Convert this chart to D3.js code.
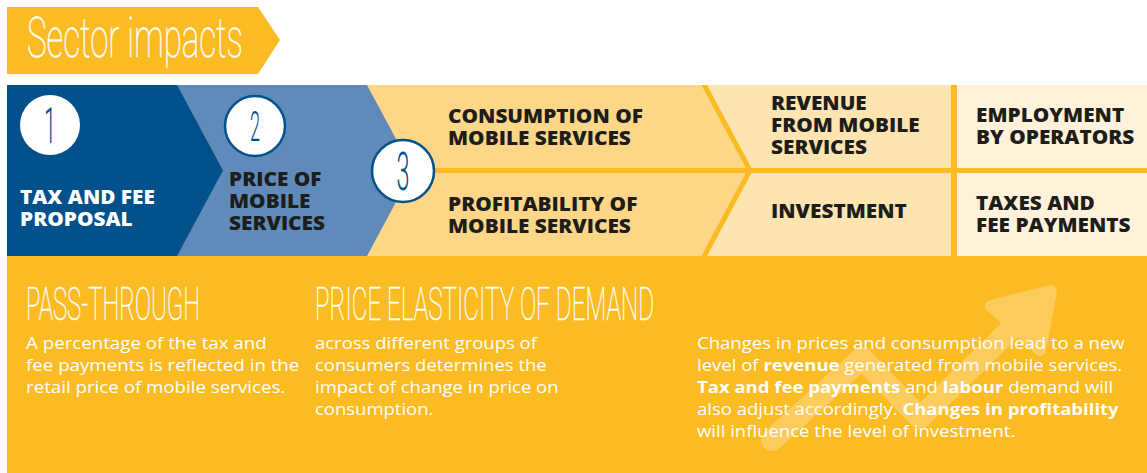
<!DOCTYPE html>
<html>
<head>
<meta charset="utf-8">
<script src="https://cdn.jsdelivr.net/npm/d3@7"></script>
<style>
  html, body { margin:0; padding:0; background:#fff; }
  svg { display:block; }
  .thin { font-family: Roboto, "Open Sans", sans-serif; font-weight:100; fill:#fff; stroke:#fff; stroke-width:0.55px; }
  .lbl  { font-family: "Open Sans", "Noto Sans", sans-serif; font-weight:800; font-size:19px; }
  .body { font-family: "Open Sans", "Noto Sans", sans-serif; font-weight:400; font-size:16.5px; fill:#fff; }
  .body .b { font-weight:700; }
</style>
</head>
<body>
<svg id="chart" width="1147" height="473"></svg>
<script>
// --- Content ---
const TITLE = "Sector impacts";
const stepNumbers = ["1", "2", "3"];
const stepLabels = [["TAX AND FEE", "PROPOSAL"], ["PRICE OF", "MOBILE", "SERVICES"]];
const impactLabels = [["CONSUMPTION OF", "MOBILE SERVICES"], ["PROFITABILITY OF", "MOBILE SERVICES"]];
const outcomeLabels = [["REVENUE", "FROM MOBILE", "SERVICES"], ["INVESTMENT"]];
const knockOnLabels = [["EMPLOYMENT", "BY OPERATORS"], ["TAXES AND", "FEE PAYMENTS"]];
const conceptTitles = ["PASS-THROUGH", "PRICE ELASTICITY OF DEMAND"];
const conceptTexts = [
  ["A percentage of the tax and", "fee payments is reflected in the", "retail price of mobile services."],
  ["across different groups of", "consumers determines the", "impact of change in price on", "consumption."]
];
// [text, bold?]
const summaryLines = [
  [["Changes in prices and consumption lead to a new", 0]],
  [["level of ", 0], ["revenue", 1], [" generated from mobile services.", 0]],
  [["Tax and fee payments", 1], [" and ", 0], ["labour", 1], [" demand will", 0]],
  [["also adjust accordingly. ", 0], ["Changes in profitability", 1]],
  [["will influence the level of investment.", 0]]
];

// --- Layout ---
const W = 1147, H = 473;
const YEL = "#fbbb23", DARK = "#1d1d1b", NAVY = "#02518b";
const band = {x0:7, x1:W, y0:85, y1:256};
const midY = (band.y0 + band.y1) / 2;
const fills = d3.scaleOrdinal()
  .domain(["step1", "step2", "impact", "outcome", "knockon"])
  .range([NAVY, "#5f8aba", "#fdd688", "#fee4b1", "#fff1da"]);
const LH = 22;

const svg = d3.select("#chart");

// title banner
svg.append("polygon")
  .attr("points", [[7,7],[258,7],[280,40],[258,74],[7,74]].join(" "))
  .attr("fill", YEL);
svg.append("text").attr("class","thin")
  .attr("x", 27).attr("y", 57)
  .attr("font-size", 55)
  .attr("textLength", 216).attr("lengthAdjust", "spacingAndGlyphs")
  .text(TITLE);

// chevron band (drawn back to front)
function chevron(xr, tip){
  return [[band.x0,band.y0],[xr,band.y0],[xr+tip,midY],[xr,band.y1],[band.x0,band.y1]].join(" ");
}
svg.append("rect").attr("x", band.x0).attr("y", band.y0)
  .attr("width", band.x1-band.x0).attr("height", band.y1-band.y0).attr("fill", fills("knockon"));
svg.append("rect").attr("x", band.x0).attr("y", band.y0)
  .attr("width", 954-band.x0).attr("height", band.y1-band.y0).attr("fill", fills("outcome"));
svg.append("polygon").attr("points", chevron(703, 47)).attr("fill", fills("impact"));
svg.append("polygon").attr("points", chevron(367, 46)).attr("fill", fills("step2"));
svg.append("polygon").attr("points", chevron(177, 46)).attr("fill", fills("step1"));

// yellow dividers
svg.append("clipPath").attr("id","bandClip").append("rect")
  .attr("x", band.x0).attr("y", band.y0).attr("width", band.x1-band.x0).attr("height", band.y1-band.y0);
const div = svg.append("g").attr("stroke", YEL).attr("fill","none").attr("clip-path","url(#bandClip)");
div.append("polyline").attr("points", [[701,band.y0-6],[750,midY],[701,band.y1+6]].join(" "))
  .attr("stroke-width", 5).attr("stroke-linejoin","miter");
div.append("line").attr("x1", 400).attr("x2", W).attr("y1", midY).attr("y2", midY).attr("stroke-width", 5);
div.append("line").attr("x1", 954).attr("x2", 954).attr("y1", band.y0).attr("y2", band.y1).attr("stroke-width", 6);

// bottom panel
svg.append("rect").attr("x", band.x0).attr("y", band.y1)
  .attr("width", W-band.x0).attr("height", H-band.y1).attr("fill", YEL);

// step circles
const circles = [
  {cx:50,  cy:125, r:30, stroke:0,   fs:50},
  {cx:255, cy:126, r:30, stroke:2.5, fs:42},
  {cx:403, cy:171, r:31, stroke:2.5, fs:54}
];
const cg = svg.selectAll(".step").data(stepNumbers).enter().append("g").attr("class","step");
cg.append("circle")
  .attr("cx", (d,i)=>circles[i].cx).attr("cy", (d,i)=>circles[i].cy).attr("r", (d,i)=>circles[i].r)
  .attr("fill", "#fff").attr("stroke", NAVY).attr("stroke-width", (d,i)=>circles[i].stroke);
cg.append("text").attr("class","thin")
  .attr("x", (d,i)=>circles[i].cx).attr("y", (d,i)=>circles[i].cy + circles[i].fs*0.36)
  .attr("text-anchor","middle")
  .attr("font-size", (d,i)=>circles[i].fs)
  .attr("textLength", (d,i)=>circles[i].fs*0.24).attr("lengthAdjust","spacingAndGlyphs")
  .style("fill", NAVY).style("stroke", "none").style("font-weight", 300)
  .text(d=>d);

// horizontally stretched text block: g translated to x, scaled in x
function block(cls, x, y, lines, color){
  const g = svg.append("g").attr("transform", `translate(${x},0)`);
  const t = g.append("text").attr("class", cls);
  if (color) t.attr("fill", color);
  lines.forEach((parts, j)=>{
    (Array.isArray(parts) ? parts : [[parts,0]]).forEach(([s,b], k)=>{
      const ts = t.append("tspan").text(s).classed("b", !!b);
      if (k === 0) ts.attr("x", 0).attr("y", y + j*LH);
    });
  });
  return {g, t};
}
function lineWidth(t, j){
  // width of line j = sum of its tspans
  let w = 0, line = -1;
  t.selectAll("tspan").each(function(){
    if (this.hasAttribute("y")) line++;
    if (line === j) w += this.getComputedTextLength();
  });
  return w;
}
function stretch(b, sx, x){ b.g.attr("transform", `translate(${x},0) scale(${sx},1)`); }

// box labels
const lblDefs = [
  [stepLabels[0], 20, 204, "#fff"],
  [stepLabels[1], 229, 186, DARK],
  [impactLabels[0], 448, 123, DARK],
  [impactLabels[1], 448, 211, DARK],
  [outcomeLabels[0], 771, 110, DARK],
  [outcomeLabels[1], 771, 218, DARK],
  [knockOnLabels[0], 976, 122, DARK],
  [knockOnLabels[1], 976, 210, DARK]
];
const lblBlocks = lblDefs.map(([lines,x,y,c]) => ({b: block("lbl", x, y, lines, c), x}));
const lblScale = 195 / lineWidth(lblBlocks[2].b.t, 0);   // "CONSUMPTION OF" ≈ 195px
lblBlocks.forEach(o => stretch(o.b, lblScale, o.x));

// trend arrow (faint, behind summary text)
const arrow = svg.append("g").attr("opacity", 0.26);
arrow.append("path")
  .attr("d", d3.line()([[772,440],[862,358],[920,418],[1012,328]]))
  .attr("fill","none").attr("stroke","#fff").attr("stroke-width", 22)
  .attr("stroke-linecap","round").attr("stroke-linejoin","round");
arrow.append("polygon")
  .attr("points", [[991,306],[1051,291],[1040,350]].join(" "))
  .attr("fill","#fff").attr("stroke","#fff").attr("stroke-width", 12).attr("stroke-linejoin","round");

// concept headings
const headX = [26, 315], headW = [174, 339];
svg.selectAll(".head").data(conceptTitles).enter().append("text")
  .attr("class","thin head")
  .attr("x", (d,i)=>headX[i]).attr("y", 320)
  .attr("font-size", 46)
  .attr("textLength", (d,i)=>headW[i]).attr("lengthAdjust","spacingAndGlyphs")
  .text(d=>d);

// body text blocks
conceptTexts.forEach((lines, i)=>{
  const b = block("body", headX[i], 349, lines);
  stretch(b, (i === 0 ? 241 : 222) / lineWidth(b.t, 0), headX[i]);
});
const sb = block("body", 697, 349, summaryLines);
stretch(sb, 428 / lineWidth(sb.t, 0), 697);
</script>
</body>
</html>
